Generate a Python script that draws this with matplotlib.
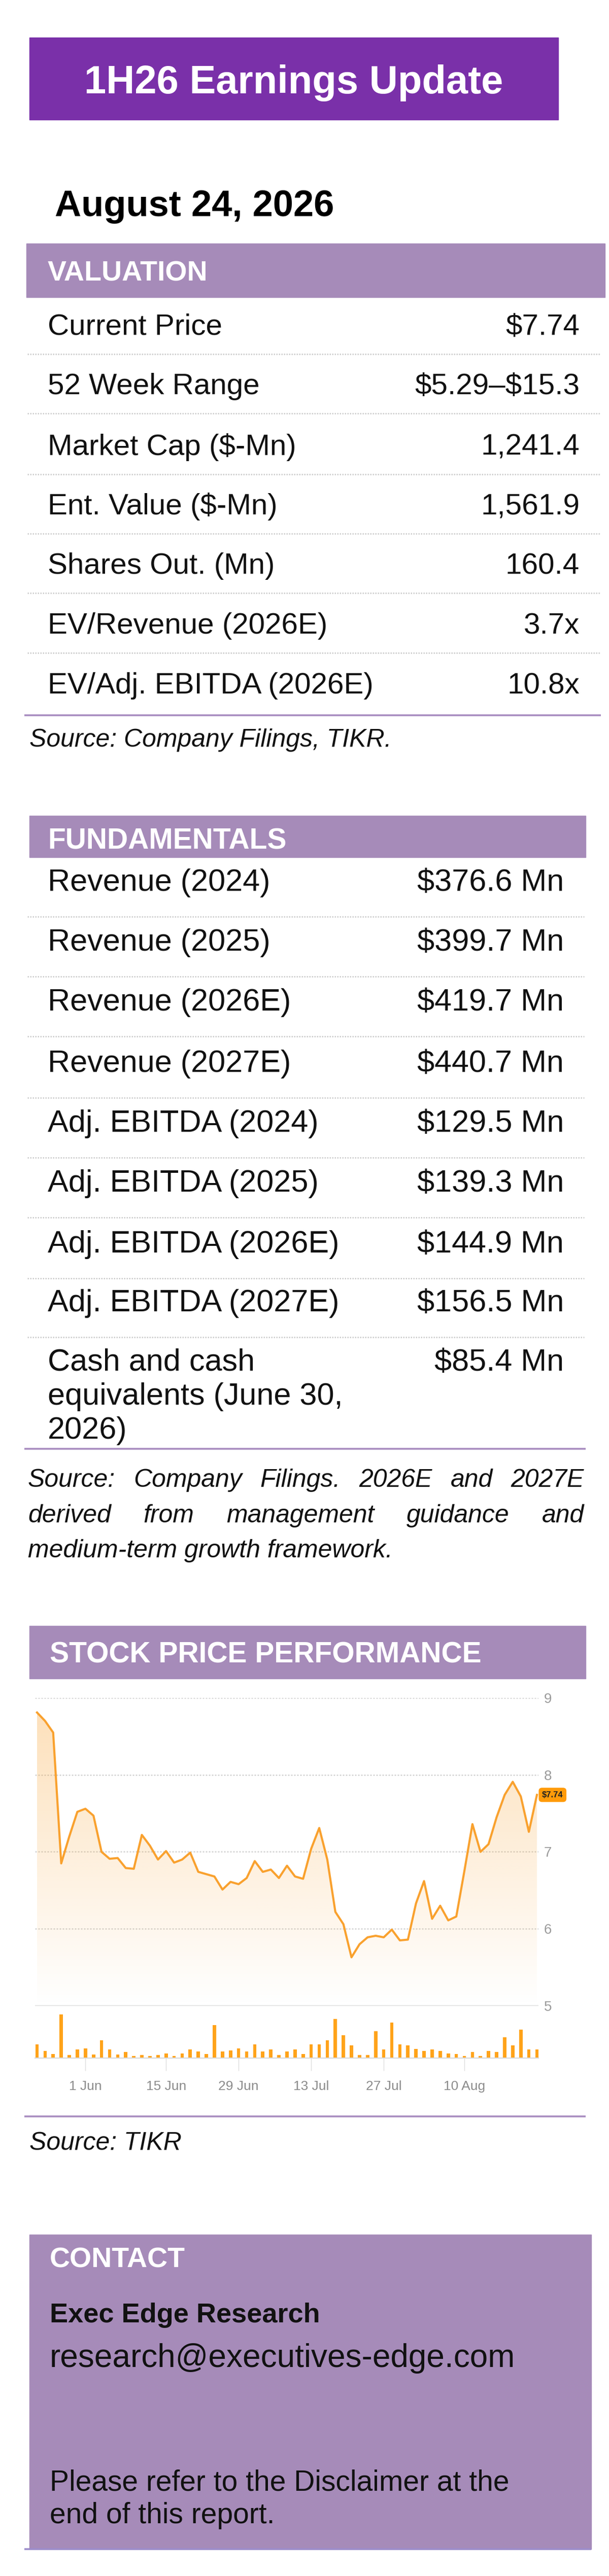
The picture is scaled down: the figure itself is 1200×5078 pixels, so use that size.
import numpy as np
import matplotlib
matplotlib.use("Agg")
import matplotlib.pyplot as plt
from matplotlib.patches import Rectangle
from matplotlib.colors import to_rgb

plt.rcParams['font.family'] = ['Liberation Sans', 'DejaVu Sans']
plt.rcParams['text.parse_math'] = False

# ---- data ----
title = "1H26 Earnings Update"
report_date = "August 24, 2026"

val_labels = ["Current Price", "52 Week Range", "Market Cap ($-Mn)", "Ent. Value ($-Mn)",
              "Shares Out. (Mn)", "EV/Revenue (2026E)", "EV/Adj. EBITDA (2026E)"]
val_values = ["$7.74", "$5.29\u2013$15.3", "1,241.4", "1,561.9", "160.4", "3.7x", "10.8x"]
val_source = "Source: Company Filings, TIKR."

fund_labels = ["Revenue (2024)", "Revenue (2025)", "Revenue (2026E)", "Revenue (2027E)",
               "Adj. EBITDA (2024)", "Adj. EBITDA (2025)", "Adj. EBITDA (2026E)",
               "Adj. EBITDA (2027E)", "Cash and cash\nequivalents (June 30,\n2026)"]
fund_values = ["$376.6 Mn", "$399.7 Mn", "$419.7 Mn", "$440.7 Mn", "$129.5 Mn",
               "$139.3 Mn", "$144.9 Mn", "$156.5 Mn", "$85.4 Mn"]
fund_source = ["Source: Company Filings. 2026E and 2027E",
               "derived from management guidance and",
               "medium-term growth framework."]

# daily close, 21 May - 21 Aug 2026
price = [8.81, 8.70, 8.55, 6.85, 7.20, 7.52, 7.56, 7.47, 7.00, 6.91,
         6.92, 6.79, 6.78, 7.22, 7.08, 6.90, 7.01, 6.86, 6.90, 6.99,
         6.74, 6.71, 6.68, 6.51, 6.61, 6.58, 6.66, 6.88, 6.74, 6.77,
         6.66, 6.82, 6.68, 6.65, 7.04, 7.31, 6.90, 6.22, 6.06, 5.63,
         5.80, 5.89, 5.91, 5.89, 5.99, 5.85, 5.86, 6.33, 6.62, 6.13,
         6.30, 6.11, 6.16, 6.75, 7.36, 7.00, 7.10, 7.45, 7.74, 7.91,
         7.72, 7.26, 7.74]
# relative daily volume
volume = [80, 42, 25, 258, 17, 50, 57, 20, 105, 52,
          20, 35, 13, 17, 13, 17, 28, 12, 28, 50,
          38, 25, 195, 38, 45, 58, 38, 80, 38, 52,
          18, 38, 50, 24, 80, 80, 105, 232, 135, 75,
          18, 17, 160, 50, 210, 80, 75, 55, 42, 50,
          42, 27, 25, 13, 35, 12, 42, 35, 122, 75,
          168, 52, 52]
date_ticks = [6, 16, 25, 34, 43, 53]
date_labels = ["1 Jun", "15 Jun", "29 Jun", "13 Jul", "27 Jul", "10 Aug"]
price_ticks = [5, 6, 7, 8, 9]

contact_name = "Exec Edge Research"
contact_mail = "research@executives-edge.com"
disclaimer = ["Please refer to the Disclaimer at the", "end of this report."]

# ---- page ----
W, H = 1200, 5078
DARK = "#7A30A9"
LIGHT = "#A68BB9"
LINE = "#A88CC0"
ORANGE = "#F9A12E"

fig = plt.figure(figsize=(W / 100, H / 100), dpi=100)
page = fig.add_axes([0, 0, 1, 1])
page.set_xlim(0, W)
page.set_ylim(H, 0)
page.axis("off")

def dotted(y, x0, x1):
    page.plot([x0, x1], [y, y], color="#C9C9C9", lw=1.8, ls=(0, (1, 1)))

def solid(y, x0, x1, color=LINE):
    page.plot([x0, x1], [y, y], color=color, lw=2.6, solid_capstyle="butt")

# title block
page.add_patch(Rectangle((58, 74), 1042, 162, color=DARK))
page.text(579, 184, title, color="white", fontsize=56, fontweight="bold",
          ha="center", va="baseline")
page.text(108, 426, report_date, color="black", fontsize=52, fontweight="bold",
          va="baseline")

# valuation
page.add_patch(Rectangle((52, 480), 1140, 106, color=LIGHT))
page.text(94, 554, "VALUATION", color="white", fontsize=40, fontweight="bold", va="baseline")
val_base = [660, 777, 897, 1014, 1131, 1249, 1367]
for i, (lab, v) in enumerate(zip(val_labels, val_values)):
    page.text(94, val_base[i], lab, fontsize=42, va="baseline", color="#111111")
    page.text(1142, val_base[i], v, fontsize=42, va="baseline", ha="right", color="#111111")
    if i < len(val_labels) - 1:
        dotted(val_base[i] + 38, 54, 1184)
solid(1410, 48, 1184)
page.text(58, 1472, val_source, fontsize=36, style="italic", va="baseline", color="#111111")

# fundamentals
page.add_patch(Rectangle((58, 1608), 1096, 82, color=LIGHT))
page.text(94, 1674, "FUNDAMENTALS", color="white", fontsize=41, fontweight="bold", va="baseline")
fund_base = [1756, 1874, 1992, 2113, 2231, 2349, 2469, 2585, 2702]
for i, (lab, v) in enumerate(zip(fund_labels, fund_values)):
    for j, part in enumerate(lab.split("\n")):
        page.text(94, fund_base[i] + 67 * j, part, fontsize=44, va="baseline", color="#111111")
    page.text(1111, fund_base[i], v, fontsize=44, va="baseline", ha="right", color="#111111")
    if i < len(fund_labels) - 1:
        dotted(fund_base[i] + 51, 54, 1151)
solid(2856, 48, 1154)

renderer = fig.canvas.get_renderer()

def justified(line, x0, x1, y, **kw):
    words = line.split()
    items = [page.text(0, y, w, va="baseline", **kw) for w in words]
    widths = [t.get_window_extent(renderer).width for t in items]
    gap = (x1 - x0 - sum(widths)) / (len(words) - 1)
    x = x0
    for t, w in zip(items, widths):
        t.set_x(x)
        x += w + gap

src_base = [2931, 3001, 3070]
for k, line in enumerate(fund_source):
    if k < len(fund_source) - 1:
        justified(line, 55, 1151, src_base[k], fontsize=36, style="italic", color="#111111")
    else:
        page.text(55, src_base[k], line, fontsize=36, style="italic", va="baseline", color="#111111")

# stock price performance
page.add_patch(Rectangle((58, 3205), 1096, 104, color=LIGHT))
page.text(98, 3278, "STOCK PRICE PERFORMANCE", color="white", fontsize=41,
          fontweight="bold", va="baseline")

idx = np.arange(len(price))
xlo, xhi = -0.25, len(price) - 1 + 0.19

axp = fig.add_axes([69 / W, 1 - 3954 / H, 992 / W, (3954 - 3347) / H])
axp.set_facecolor("none")
grad = np.zeros((256, 1, 4))
grad[..., :3] = to_rgb(ORANGE)
grad[:, 0, 3] = np.linspace(0.0, 0.34, 256)
im = axp.imshow(grad, extent=[0, len(price) - 1, 5, 9], origin="lower",
                aspect="auto", zorder=1, interpolation="bilinear")
poly = axp.fill_between(idx, price, 5, color="none")
im.set_clip_path(poly.get_paths()[0], transform=axp.transData)
for v in price_ticks[1:]:
    axp.axhline(v, color="#D2D2D2", lw=1.8, ls=(0, (1.2, 1.2)), zorder=0)
axp.axhline(5, color="#CFCFCF", lw=2, zorder=0)
axp.plot(idx, price, color=ORANGE, lw=3, solid_joinstyle="round", zorder=3)
axp.set_xlim(xlo, xhi)
axp.set_ylim(5, 9)
for s in axp.spines.values():
    s.set_visible(False)
axp.set_xticks([])
axp.yaxis.tick_right()
axp.set_yticks(price_ticks)
axp.tick_params(axis="y", length=0, pad=8, labelsize=20, labelcolor="#9C9C9C")
axp.annotate("$%.2f" % price[-1], xy=(1, price[-1]), xycoords=("axes fraction", "data"),
             xytext=(5, 0), textcoords="offset points", ha="left", va="center",
             fontsize=12, fontweight="bold", color="#222222", zorder=5,
             bbox=dict(boxstyle="round,pad=0.35", fc="#FF9B0A", ec="#FF9B0A"),
             annotation_clip=False)

axv = fig.add_axes([69 / W, 1 - 4057 / H, 992 / W, 97 / H])
axv.set_facecolor("none")
axv.bar(idx, volume, width=0.42, color="#FFA31A")
axv.set_xlim(xlo, xhi)
axv.set_ylim(0, 291)
for name, s in axv.spines.items():
    s.set_visible(name == "bottom")
axv.spines["bottom"].set_color("#D8D8D8")
axv.spines["bottom"].set_linewidth(1.5)
axv.set_yticks([])
axv.set_xticks(date_ticks)
axv.set_xticklabels(date_labels)
axv.tick_params(axis="x", length=18, width=1, color="#DDDDDD", pad=14,
                labelsize=19, labelcolor="#8C8C8C")

solid(4172, 48, 1154)
page.text(58, 4238, "Source: TIKR", fontsize=36, style="italic", va="baseline", color="#111111")

# contact
page.add_patch(Rectangle((58, 4405), 1107, 620, color=LIGHT))
solid(5025, 48, 1165, color="#9C8DCB")
page.text(98, 4470, "CONTACT", color="white", fontsize=40, fontweight="bold", va="baseline")
page.text(98, 4578, contact_name, fontsize=39, fontweight="bold", va="baseline", color="#111111")
page.text(98, 4666, contact_mail, fontsize=46, va="baseline", color="#111111")
page.text(98, 4909, disclaimer[0], fontsize=41, va="baseline", color="#111111")
page.text(98, 4974, disclaimer[1], fontsize=41, va="baseline", color="#111111")

fig.savefig("out.png", dpi=100)
